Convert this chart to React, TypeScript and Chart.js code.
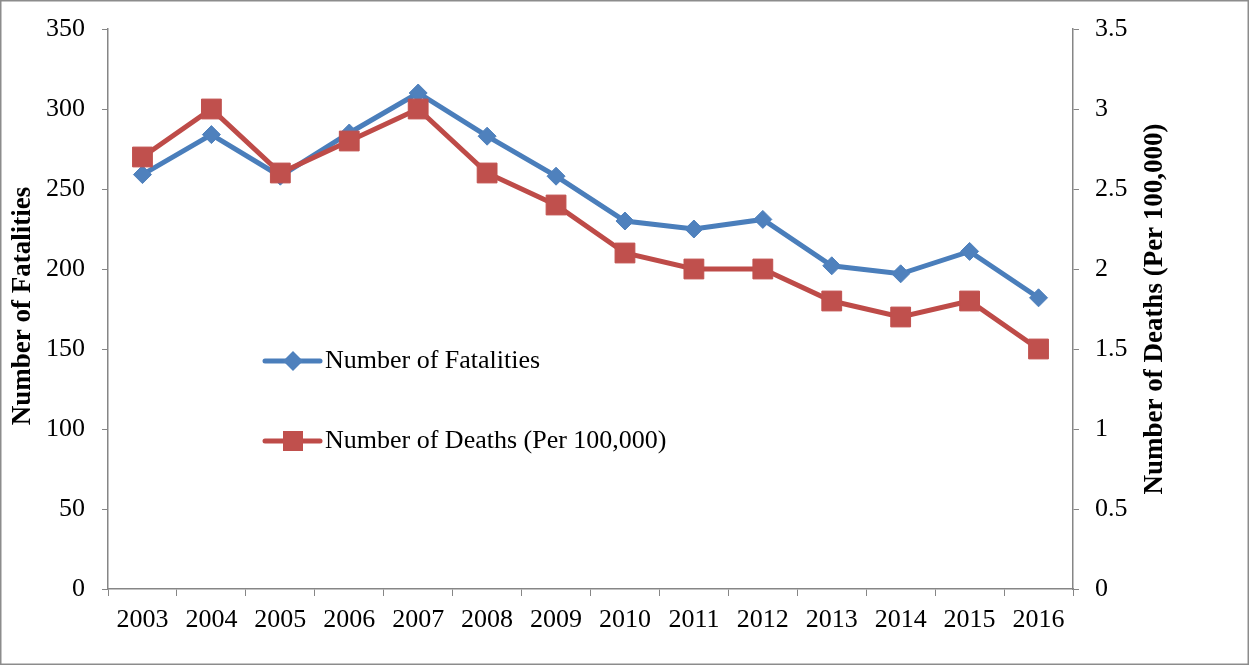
import React, { useEffect, useRef } from "react";
import { Chart, registerables } from "chart.js";

Chart.register(...registerables);

const years = ["2003", "2004", "2005", "2006", "2007", "2008", "2009", "2010", "2011", "2012", "2013", "2014", "2015", "2016"];
const fatalities = [259, 284, 258, 285, 310, 283, 258, 230, 225, 231, 202, 197, 211, 182];
const deathsPer100k = [2.7, 3.0, 2.6, 2.8, 3.0, 2.6, 2.4, 2.1, 2.0, 2.0, 1.8, 1.7, 1.8, 1.5];
const seriesNames = ["Number of Fatalities", "Number of Deaths (Per 100,000)"];
const leftTitle = "Number of Fatalities";
const rightTitle = "Number of Deaths (Per 100,000)";

const FONT = "'Liberation Serif', 'Times New Roman', serif";
const AXIS = "#868686";
const BLUE_LINE = "#4A7EBB";
const BLUE_FILL = "#4F81BD";
const RED_LINE = "#BE4B48";
const RED_FILL = "#C0504D";
const TICK_SIZE = 26;

const decorPlugin = {
  id: "decor",
  beforeDraw(chart: any) {
    const { ctx, width, height } = chart;
    ctx.save();
    ctx.fillStyle = "#ffffff";
    ctx.fillRect(0, 0, width, height);
    ctx.strokeStyle = "#8c8c8c";
    ctx.lineWidth = 1.5;
    ctx.strokeRect(0.75, 0.75, width - 1.5, height - 1.5);
    ctx.restore();
  },
  afterDraw(chart: any) {
    const { ctx, chartArea } = chart;
    const midY = (chartArea.top + chartArea.bottom) / 2;
    ctx.save();
    ctx.fillStyle = "#000";
    ctx.font = `bold 27px ${FONT}`;
    ctx.textAlign = "center";
    ctx.textBaseline = "middle";
    ctx.save();
    ctx.translate(23, midY - 3);
    ctx.rotate(-Math.PI / 2);
    ctx.fillText(leftTitle, 0, 0);
    ctx.restore();
    ctx.save();
    ctx.translate(chartArea.right + 82, midY);
    ctx.rotate(-Math.PI / 2);
    ctx.fillText(rightTitle, 0, 0);
    ctx.restore();

    const lx = chartArea.left + 157;
    const rows = [chartArea.top + 332, chartArea.top + 412];
    const styles = [
      { line: BLUE_LINE, fill: BLUE_FILL, shape: "diamond" },
      { line: RED_LINE, fill: RED_FILL, shape: "square" },
    ];
    rows.forEach((y, i) => {
      const s = styles[i];
      ctx.strokeStyle = s.line;
      ctx.lineWidth = 5;
      ctx.lineCap = "round";
      ctx.beginPath();
      ctx.moveTo(lx, y);
      ctx.lineTo(lx + 55, y);
      ctx.stroke();
      const mx = lx + 28;
      ctx.fillStyle = s.fill;
      if (s.shape === "diamond") {
        ctx.beginPath();
        ctx.moveTo(mx, y - 10);
        ctx.lineTo(mx + 10, y);
        ctx.lineTo(mx, y + 10);
        ctx.lineTo(mx - 10, y);
        ctx.closePath();
        ctx.fill();
      } else {
        ctx.fillRect(mx - 10, y - 10, 20, 20);
      }
      ctx.fillStyle = "#000";
      ctx.font = `${TICK_SIZE}px ${FONT}`;
      ctx.textAlign = "left";
      ctx.fillText(seriesNames[i], lx + 60, y);
    });
    ctx.restore();
  },
};

const fmt = (v: any) => String(Number(v));

export default function App() {
  const ref = useRef<HTMLCanvasElement | null>(null);
  useEffect(() => {
    if (!ref.current) return;
    const chart = new Chart(ref.current, {
      type: "line",
      data: {
        labels: years,
        datasets: [
          {
            label: seriesNames[0],
            data: fatalities,
            yAxisID: "y",
            borderColor: BLUE_LINE,
            backgroundColor: BLUE_FILL,
            borderWidth: 5,
            pointStyle: "rectRot",
            pointRadius: 9,
            pointBorderWidth: 1,
            pointBorderColor: BLUE_FILL,
            pointBackgroundColor: BLUE_FILL,
            tension: 0,
            order: 1,
          },
          {
            label: seriesNames[1],
            data: deathsPer100k,
            yAxisID: "y1",
            borderColor: RED_LINE,
            backgroundColor: RED_FILL,
            borderWidth: 5,
            pointStyle: "rect",
            pointRadius: 14,
            pointBorderWidth: 1,
            pointBorderColor: RED_FILL,
            pointBackgroundColor: RED_FILL,
            tension: 0,
            order: 0,
          },
        ],
      },
      options: {
        animation: false,
        responsive: false,
        maintainAspectRatio: false,
        layout: { padding: { top: 29, left: 0, right: 0, bottom: 0 } },
        plugins: { legend: { display: false }, tooltip: { enabled: false }, title: { display: false } },
        scales: {
          x: {
            type: "category",
            offset: true,
            afterFit: (s: any) => { s.height = 76; s.paddingLeft = 0; s.paddingRight = 0; },
            grid: { display: true, drawOnChartArea: false, color: AXIS, tickLength: 7, offset: true },
            border: { display: true, color: AXIS, width: 1.5 },
            ticks: { color: "#000", font: { family: FONT, size: TICK_SIZE }, padding: 9, maxRotation: 0, autoSkip: false },
          },
          y: {
            type: "linear",
            position: "left",
            min: 0,
            max: 350,
            afterFit: (s: any) => { s.width = 108; s.paddingTop = 0; s.paddingBottom = 0; },
            grid: { display: true, drawOnChartArea: false, color: AXIS, tickLength: 6 },
            border: { display: true, color: AXIS, width: 1.5 },
            ticks: { stepSize: 50, color: "#000", font: { family: FONT, size: TICK_SIZE }, padding: 17, callback: fmt },
          },
          y1: {
            type: "linear",
            position: "right",
            min: 0,
            max: 3.5,
            afterFit: (s: any) => { s.width = 176; s.paddingTop = 0; s.paddingBottom = 0; },
            grid: { display: true, drawOnChartArea: false, color: AXIS, tickLength: 6 },
            border: { display: true, color: AXIS, width: 1.5 },
            ticks: { stepSize: 0.5, color: "#000", font: { family: FONT, size: TICK_SIZE }, padding: 16, callback: fmt },
          },
        },
      },
      plugins: [decorPlugin],
    } as any);
    return () => chart.destroy();
  }, []);
  return (
    <div style={{ position: "absolute", left: 0, top: 0, width: 1249, height: 665 }}>
      <canvas ref={ref} width={1249} height={665} style={{ display: "block", width: 1249, height: 665 }} />
    </div>
  );
}
